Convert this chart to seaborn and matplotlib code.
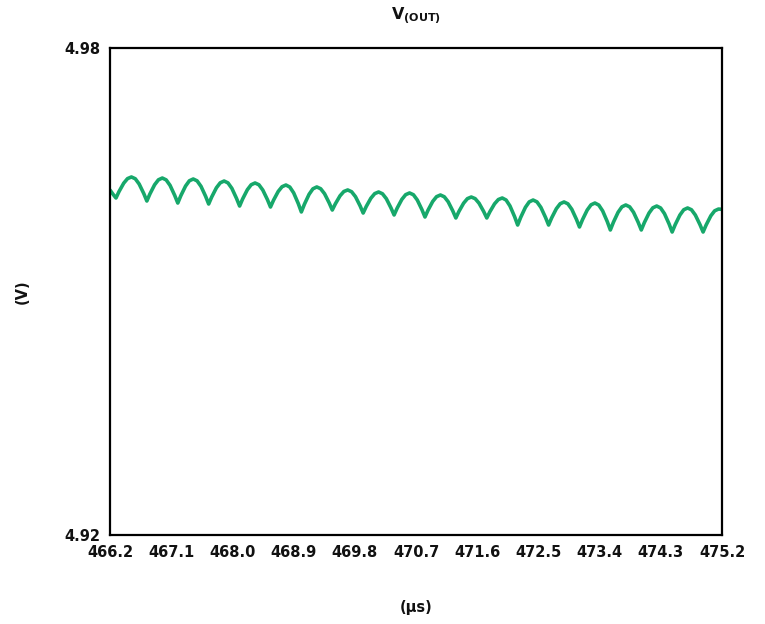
import matplotlib
matplotlib.use('Agg')

import seaborn as sns
from matplotlib import pyplot as plt

# V(OUT) ripple (time in us, voltage in V)
time_us = [
  466.200, 466.243,
  466.288, 466.333, 466.402, 466.458, 466.515, 466.572, 466.629, 466.697,
  466.742, 466.787, 466.856, 466.912, 466.969, 467.026, 467.083, 467.151,
  467.197, 467.242, 467.311, 467.367, 467.424, 467.481, 467.538, 467.606,
  467.651, 467.696, 467.765, 467.821, 467.878, 467.935, 467.992, 468.060,
  468.106, 468.151, 468.220, 468.276, 468.333, 468.390, 468.447, 468.515,
  468.560, 468.605, 468.674, 468.730, 468.787, 468.844, 468.901, 468.969,
  469.014, 469.059, 469.128, 469.184, 469.241, 469.298, 469.355, 469.423,
  469.469, 469.514, 469.583, 469.639, 469.696, 469.753, 469.810, 469.878,
  469.923, 469.968, 470.037, 470.093, 470.150, 470.207, 470.264, 470.332,
  470.378, 470.423, 470.492, 470.548, 470.605, 470.662, 470.719, 470.787,
  470.832, 470.877, 470.946, 471.002, 471.059, 471.116, 471.173, 471.241,
  471.286, 471.331, 471.400, 471.456, 471.513, 471.570, 471.627, 471.695,
  471.741, 471.786, 471.855, 471.911, 471.968, 472.025, 472.082, 472.150,
  472.195, 472.240, 472.309, 472.365, 472.422, 472.479, 472.536, 472.604,
  472.650, 472.695, 472.764, 472.820, 472.877, 472.934, 472.991, 473.059,
  473.104, 473.149, 473.218, 473.274, 473.331, 473.388, 473.445, 473.513,
  473.558, 473.603, 473.672, 473.728, 473.785, 473.842, 473.899, 473.967,
  474.013, 474.058, 474.127, 474.183, 474.240, 474.297, 474.354, 474.422,
  474.467, 474.512, 474.581, 474.637, 474.694, 474.751, 474.808, 474.876,
  474.922, 474.967, 475.036, 475.092, 475.149, 475.200,
]
v_out = [
  4.96250, 4.96200,
  4.96152, 4.96232, 4.96335, 4.96391, 4.96411, 4.96389, 4.96324, 4.96206,
  4.96115, 4.96202, 4.96315, 4.96376, 4.96398, 4.96375, 4.96308, 4.96185,
  4.96090, 4.96181, 4.96299, 4.96364, 4.96386, 4.96363, 4.96296, 4.96173,
  4.96078, 4.96165, 4.96278, 4.96339, 4.96361, 4.96338, 4.96271, 4.96148,
  4.96053, 4.96141, 4.96254, 4.96315, 4.96337, 4.96315, 4.96250, 4.96132,
  4.96041, 4.96125, 4.96233, 4.96291, 4.96312, 4.96287, 4.96215, 4.96083,
  4.95980, 4.96075, 4.96198, 4.96265, 4.96288, 4.96266, 4.96205, 4.96092,
  4.96004, 4.96080, 4.96179, 4.96232, 4.96251, 4.96229, 4.96168, 4.96055,
  4.95967, 4.96047, 4.96150, 4.96206, 4.96226, 4.96204, 4.96143, 4.96030,
  4.95943, 4.96027, 4.96135, 4.96193, 4.96214, 4.96192, 4.96127, 4.96009,
  4.95918, 4.96002, 4.96110, 4.96168, 4.96189, 4.96167, 4.96106, 4.95993,
  4.95906, 4.95986, 4.96088, 4.96144, 4.96164, 4.96144, 4.96088, 4.95986,
  4.95906, 4.95982, 4.96080, 4.96133, 4.96152, 4.96127, 4.96054, 4.95922,
  4.95819, 4.95914, 4.96037, 4.96104, 4.96127, 4.96104, 4.96037, 4.95914,
  4.95819, 4.95907, 4.96020, 4.96081, 4.96103, 4.96080, 4.96013, 4.95890,
  4.95795, 4.95886, 4.96004, 4.96068, 4.96090, 4.96065, 4.95993, 4.95861,
  4.95758, 4.95853, 4.95976, 4.96043, 4.96066, 4.96043, 4.95976, 4.95853,
  4.95758, 4.95849, 4.95967, 4.96031, 4.96053, 4.96029, 4.95959, 4.95832,
  4.95733, 4.95824, 4.95942, 4.96007, 4.96029, 4.96007, 4.95942, 4.95824,
  4.95733, 4.95820, 4.95933, 4.95994, 4.96016, 4.96012,
]

x_ticks = [466.2, 467.1, 468.0, 468.9, 469.8, 470.7, 471.6, 472.5, 473.4, 474.3, 475.2]
y_ticks = [4.92, 4.98]

sns.set_style("white")
plt.rcParams['font.family'] = ['DejaVu Sans']
plt.rcParams['font.weight'] = 'bold'
plt.rcParams['text.color'] = '#111111'
plt.rcParams['axes.labelcolor'] = '#111111'
plt.rcParams['xtick.color'] = '#111111'
plt.rcParams['ytick.color'] = '#111111'

fig = plt.figure(figsize=(7.65, 6.24), dpi=100)
ax = fig.add_axes([110 / 765, 1 - 535 / 624, 612 / 765, 487 / 624])

sns.lineplot(x=time_us, y=v_out, color="#17a86b", linewidth=2.6, ax=ax)

ax.set_xlim(466.2, 475.2)
ax.set_ylim(4.92, 4.98)
ax.set_xticks(x_ticks)
ax.set_xticklabels(["%.1f" % t for t in x_ticks])
ax.set_yticks(y_ticks)
ax.set_yticklabels(["%.2f" % v for v in y_ticks])
ax.tick_params(length=0, labelsize=10.5, pad=7)
for lab in ax.get_xticklabels() + ax.get_yticklabels():
  lab.set_fontweight('bold')

for s in ax.spines.values():
  s.set_color('black')
  s.set_linewidth(1.6)

ax.set_title(r"$\mathbf{V_{(OUT)}}$", fontsize=11.5, pad=20)
ax.set_xlabel(u"(\u00b5s)", fontsize=10.5, fontweight='bold')
ax.set_ylabel("(V)", fontsize=10.5, fontweight='bold')
ax.xaxis.set_label_coords(0.5, -0.133)
ax.yaxis.set_label_coords(-0.131, 0.5)

plt.savefig("out.png", dpi=100)
